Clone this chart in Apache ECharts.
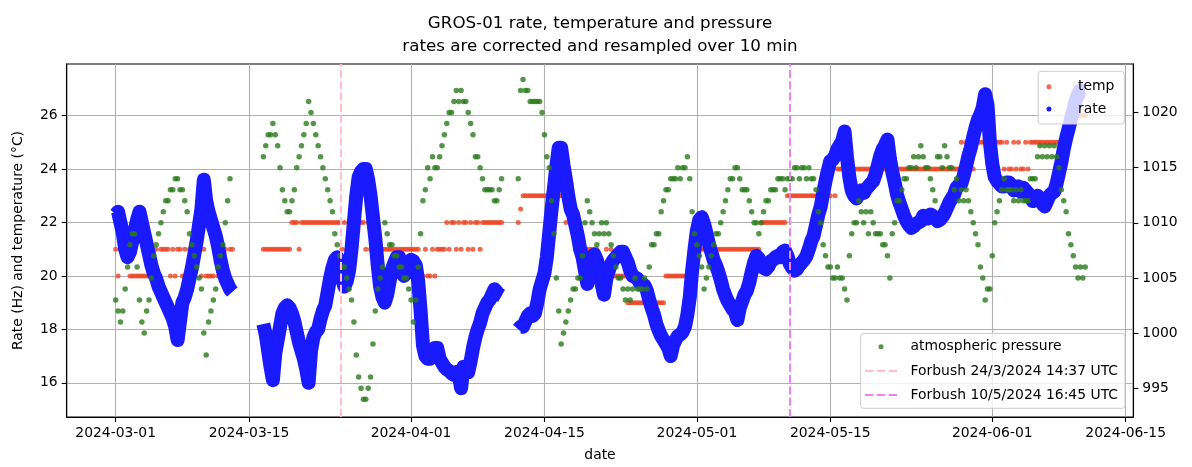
<!DOCTYPE html>
<html><head><meta charset="utf-8">
<script src="https://cdn.jsdelivr.net/npm/echarts@6/dist/echarts.min.js"></script>
<style>html,body{margin:0;padding:0;background:#fff}#c{width:1192px;height:467px}</style>
</head><body><div id="c"></div>
<script>
// ---- data (6-hour samples) ----
const segmentStarts = ['2024-03-01T00:00:00Z', '2024-03-16T12:00:00Z', '2024-04-12T06:00:00Z'];
const stepHours = 6;

const rate1 = [22.3,22.4,22.0,21.6, 21.0,20.7,20.9,21.3, 21.7,22.1,22.4,22.0, 21.6,21.2,20.8,20.4,
  20.1,19.9,19.6,19.4, 19.2,19.0,18.8,18.6, 18.4,18.1,17.6,18.3, 19.0,19.2,19.5,19.9,
  20.3,20.8,21.3,21.9, 22.5,23.6,22.8,22.4, 22.1,21.8,21.5,21.1, 20.6,20.2,19.9,19.7, 19.5,19.4];
const rate2 = [18.2,17.8,17.2,16.6, 16.1,17.1,17.6,18.1, 18.6,18.8,18.9,18.8, 18.6,18.3,17.9,17.5,
  17.2,16.9,16.5,16.0, 17.2,17.7,17.9,18.0, 18.4,18.7,18.9,19.4, 19.9,20.3,20.6,20.7,
  20.5,19.9,19.6,19.8, 20.2,21.0,22.0,23.0, 23.7,23.9,24.0,24.0, 23.6,23.0,22.2,21.4,
  20.4,19.6,19.2,19.0, 19.3,19.8,20.25,20.5, 20.7,20.7,20.3,20.0, 20.1,20.4,20.6,20.55,
  20.4,19.8,18.7,17.4, 17.0,16.9,16.9,17.1, 17.3,17.3,16.9,16.75, 16.6,16.5,16.45,16.35,
  16.3,16.4,16.3,15.8, 16.6,16.4,16.4,16.8, 17.3,17.7,18.0,18.25, 18.6,18.8,19.0,19.1,
  19.3,19.5,19.4,19.3, 19.25];
const rate3 = [18.0,18.1,18.1,
  18.3,18.5,18.6,18.5, 18.6,19.0,19.5,19.8, 20.1,20.7,21.6,22.5, 23.3,24.1,24.8,24.8,
  24.15,23.6,23.0,22.5, 22.3,21.9,21.5,21.0, 20.7,20.2,19.7,20.4, 20.7,20.8,20.6,20.2,
  19.7,19.3,19.9,20.2, 20.45,20.6,20.7,20.8, 20.9,20.9,20.7,20.5, 20.2,20.0,19.95,19.9,
  19.75,19.7,19.65,19.45, 19.1,18.8,18.55,18.2, 17.95,17.75,17.6,17.45, 17.3,17.0,17.4,17.6,
  17.75,17.8,17.9,18.1, 18.55,19.2,20.2,21.0, 21.7,22.1,22.2,21.95, 21.6,21.2,20.9,20.6,
  20.4,20.15,19.85,19.5, 19.25,19.05,18.9,18.75, 18.65,18.35,18.8,19.05, 19.3,19.45,19.75,20.15,
  20.5,20.75,20.65,20.45, 20.3,20.25,20.35,20.55, 20.6,20.7,20.75,20.7, 20.9,20.95,20.75,20.45,
  20.3,20.2,20.25,20.4, 20.5,20.6,20.75,21.0, 21.3,21.5,21.9,22.3, 22.6,23.1,23.55,23.95,
  24.3,24.35,24.5,24.75, 24.9,25.05,25.4,24.45, 23.7,23.2,23.0,22.9, 23.05,23.2,23.1,23.25,
  23.35,23.45,23.55,23.8, 24.15,24.5,24.75,24.9, 25.1,24.4,23.9,23.5, 23.05,22.75,22.5,22.25,
  22.05,21.9,21.8,21.85, 21.95,22.0,22.05,22.25, 22.2,22.15,22.3,22.25, 22.15,22.05,22.1,22.2,
  22.35,22.55,22.75,22.9, 23.05,23.3,23.4,23.45, 23.75,24.1,24.5,24.8, 25.2,25.55,25.85,26.05,
  26.3,26.8,26.4,25.0, 24.2,23.7,23.55,23.45, 23.35,23.35,23.5,23.5, 23.4,23.2,23.3,23.35,
  23.15,23.3,23.2,23.1, 22.95,22.8,22.85,23.0, 22.85,22.7,22.6,22.8, 23.0,23.1,23.15,23.45,
  23.85,24.25,24.75,25.15, 25.5,25.85,26.2,26.55, 26.8,26.95,26.9,26.9];

const temp1 = [21,20,21,21, 21,21,20,20, 20,20,20,20, 20,20,20,20, 20,21,20,21, 21,21,21,20,
  21,20,21,21, 20,21,20,21, 20,21,21,21, 20,21,20,20, 20,20,21,20, 21,20,21,20, 21,21];
const temp2 = [21,21,21,21,21,21,21,21,21,21,21,21,
  22,22,22,21,22,22,22,22,22,22,22,22,22,22,22,22,22,22,22,22,22,
  21,22,21,
  22,22,22,22,22,22,22,
  21,22,
  21,21,21,21,21,21,21,21,21,21,21,21,21,21,21,21,21,21,21,21,21,
  20,20,21,20,20,21,20,
  21,21,21,21,
  22,21,22,22,21,22,21,22,22,21,22,21,22,22,21,
  22,22,22,22,22,22,22,22,22];
const temp3 = [22,22.5,
  23,23,23,23,23,23,23,23,23,23,23,23,23,23,23,23,23,
  23,22,23,22,
  22,21,22,21,
  21,21,21,21,21,21,21,
  20,20,20,21,20,21,20,20,20,20,20,20,
  19,19,19,19,19,19,19,19,19,19,19,19,19,19,19,19,
  20,20,20,20,20,20,20,20,20,20,20,
  21,21,21,21,21,21,21,21,21,21,21,21,21,21,21,21,21,21,21,21,21,21,21,21,21,21,21,21,21,
  22,22,22,22,22,22,22,22,22,22,22,
  23,23,23,23,23,23,23,23,23,23,23,23,23,23,23,23,23,
  24,23,24,23,
  24,24,24,24,24,24,24,24,24,24, 24,24,24,24,24,24,24,24,24,24, 24,24,24,24,24,24,24,24,24,24,
  24,24,24,24,24,24,24,24,24,24, 24,24,24,24,24,24,24,24,24,24, 24,24,
  25,24,25,24,25,24,25,
  25,25,25,25,25,25,25,25,25,25,25,
  24,25,24,24,25,24,25,24,24,25,24,25,
  25,25,25,25,25,25,25,25,25,25,25,25,25,25,
  25,26,26,26,26,26,26,26,26];

const press1 = [1003,1002,1001,1002, 1004,1006,1008,1009, 1009,1006,1003,1001, 1000,1002,1003,1005,
  1007,1008,1009,1010, 1011,1012,1012,1013, 1013,1014,1014,1013, 1013,1012,1011,1009,
  1008,1007,1006,1005, 1004,1000,998,1001, 1002,1003,1004,1006, 1007,1008,1010,1012, 1014];
const press2 = [1016,1017,1018,1018, 1019,1018,1017,1015, 1013,1012,1011,1011, 1012,1013,1015,1016,
  1017,1018,1019,1021, 1020,1019,1018,1017, 1016,1015,1014,1013, 1012,1011,1009,1008,
  1007,1006,1006,1005, 1004,1003,1001,998, 996,995,994,994, 995,996,999,1002,
  1004,1005,1006,1010, 1009,1008,1008,1007, 1007,1006,1006,1005, 1005,1004,1003,1001,
  1003,1006,1009,1012, 1013,1015,1014,1016, 1015,1015,1016,1017, 1018,1019,1020,1020,
  1021,1022,1021,1022, 1021,1021,1020,1019, 1018,1016,1016,1015, 1014,1013,1013,1013,
  1013,1012,1012,1013, 1014];
const press3 = [1014,1022,1023,
  1022,1022,1021,1021, 1021,1021,1021,1020, 1018,1016,1015,1012, 1009,1005,1002,999,
  1000,1001,1002,1003, 1004,1004,1005,1005, 1007,1010,1012,1011, 1010,1009,1008,1009,
  1010,1009,1010,1009, 1008,1007,1006,1005, 1005,1004,1003,1004, 1003,1004,1005,1004,
  1004,1004,1005,1004, 1006,1008,1008,1009, 1009,1011,1012,1013, 1013,1014,1014,1014,
  1015,1014,1015,1015, 1016,1014,1011,1009, 1008,1007,1006,1004, 1005,1006,1007,1008,
  1009,1009,1010,1011, 1012,1013,1014,1014, 1015,1015,1014,1013, 1013,1013,1012,1011,
  1010,1010,1009,1010, 1011,1012,1012,1013, 1013,1013,1014,1014, 1014,1013,1014,1014,
  1014,1015,1015,1014, 1015,1015,1014,1015, 1014,1014,1013,1011, 1010,1008,1007,1006,
  1006,1005,1005,1006, 1005,1005,1004,1003, 1007,1009,1010,1010, 1012,1011,1010,1011,
  1009,1011,1010,1009, 1009,1009,1008,1008, 1007,1005,1009,1010, 1012,1012,1013,1014,
  1014,1015,1015,1016, 1015,1016,1017,1016, 1015,1015,1014,1013, 1012,1016,1016,1015,
  1017,1016,1015,1015, 1013,1014,1012,1013, 1012,1013,1012,1011, 1010,1009,1008,1006,
  1005,1003,1004,1004, 1007,1010,1011,1012, 1013,1014,1013,1013, 1013,1012,1013,1012,
  1013,1012,1012,1012, 1014,1014,1014,1016, 1017,1016,1017,1016, 1017,1016,1017,1016,
  1015,1013,1012,1011, 1009,1008,1007,1006, 1005,1006,1005,1006];

const xTickLabels = ['2024-03-01','2024-03-15','2024-04-01','2024-04-15','2024-05-01','2024-05-15','2024-06-01','2024-06-15'];
const leftTicks = [16, 18, 20, 22, 24, 26];
const rightTicks = [995, 1000, 1005, 1010, 1015, 1020];
const forbushNames = ['Forbush 24/3/2024 14:37 UTC', 'Forbush 10/5/2024 16:45 UTC'];
const forbushTimes = ['2024-03-24T14:37:00Z', '2024-05-10T16:45:00Z'];

// ---- build ----
const H = 3600 * 1000, DAY = 24 * H;
function build(segs, breakBetween) {
  const out = [];
  segs.forEach((arr, k) => {
    const t0 = Date.parse(segmentStarts[k]);
    arr.forEach((v, i) => out.push([t0 + i * stepHours * H, v]));
    if (breakBetween && k < segs.length - 1) out.push([t0 + arr.length * stepHours * H, null]);
  });
  return out;
}
const xTickValues = xTickLabels.map(s => Date.parse(s + 'T00:00:00Z'));
const xMin = xTickValues[0] - 5.14 * DAY;
const xMax = xTickValues[7] + 0.8 * DAY;
const FONT = 'DejaVu Sans';
const tickFont = {fontFamily: FONT, fontSize: 13.9, color: '#000'};
const DASH_ICON = 'path://M0,0H8V2H0ZM11.3,0H19.3V2H11.3ZM22.6,0H30.6V2H22.6Z';

const chart = echarts.init(document.getElementById('c'), null, {renderer: 'canvas'});
const option = {
  animation: false,
  backgroundColor: '#fff',
  title: {
    text: 'GROS-01 rate, temperature and pressure\nrates are corrected and resampled over 10 min',
    left: 600, top: 11.5, padding: 0, textAlign: 'center',
    textStyle: {fontFamily: FONT, fontSize: 16.7, fontWeight: 'normal', color: '#000', lineHeight: 23.5}
  },
  grid: {left: 66.7, right: 58.7, top: 64, bottom: 48.7, show: true, borderColor: '#000', borderWidth: 1.1, backgroundColor: 'transparent'},
  xAxis: {
    type: 'value', min: xMin, max: xMax, scale: true,
    name: 'date', nameLocation: 'middle', nameGap: 31,
    nameTextStyle: {fontFamily: FONT, fontSize: 13.9, color: '#000'},
    axisLine: {show: true, onZero: false, lineStyle: {color: '#000', width: 1.1}},
    axisTick: {show: true, length: 5, lineStyle: {color: '#000', width: 1.1}, customValues: xTickValues},
    axisLabel: Object.assign({customValues: xTickValues, margin: 9, showMinLabel: true, showMaxLabel: true, hideOverlap: false,
      formatter: v => { const i = xTickValues.indexOf(v); return i >= 0 ? xTickLabels[i] : ''; }}, tickFont),
    splitLine: {show: true, lineStyle: {color: '#b0b0b0', width: 1.1}}
  },
  yAxis: [
    {
      type: 'value', min: 14.72, max: 27.93, position: 'left',
      name: 'Rate (Hz) and temperature (°C)', nameLocation: 'middle', nameGap: 41, nameRotate: 90,
      nameTextStyle: {fontFamily: FONT, fontSize: 13.9, color: '#000'},
      axisLine: {show: true, lineStyle: {color: '#000', width: 1.1}},
      axisTick: {show: true, length: 5, lineStyle: {color: '#000', width: 1.1}, customValues: leftTicks},
      axisLabel: Object.assign({customValues: leftTicks, margin: 9, formatter: v => String(v)}, tickFont),
      splitLine: {show: true, lineStyle: {color: '#b0b0b0', width: 1.1}}
    },
    {
      type: 'value', min: 992.38, max: 1024.41, position: 'right',
      axisLine: {show: true, lineStyle: {color: '#000', width: 1.1}},
      axisTick: {show: true, length: 5, lineStyle: {color: '#000', width: 1.1}, customValues: rightTicks},
      axisLabel: Object.assign({customValues: rightTicks, margin: 9, formatter: v => String(v)}, tickFont),
      splitLine: {show: false}
    }
  ],
  legend: [
    {
      data: [{name: 'temp', icon: 'circle'}, {name: 'rate', icon: 'circle'}],
      orient: 'vertical', right: 67.7, top: 71.3,
      itemWidth: 28, itemHeight: 5, itemGap: 6.3,
      padding: [7.4, 10, 7, 8.3],
      backgroundColor: 'rgba(255,255,255,0.8)', borderColor: '#cccccc', borderWidth: 1, borderRadius: 3,
      textStyle: {fontFamily: FONT, fontSize: 13.9, color: '#000', lineHeight: 16, padding: [0, 0, 0, 10]},
      selectedMode: false
    },
    {
      data: [{name: 'atmospheric pressure', icon: 'circle'},
             {name: forbushNames[0], icon: DASH_ICON}, {name: forbushNames[1], icon: DASH_ICON}],
      orient: 'vertical', right: 67, bottom: 58.7,
      itemWidth: 32, itemHeight: 5, itemGap: 8.1,
      padding: [5.4, 7, 5.3, 4.4],
      backgroundColor: 'rgba(255,255,255,0.8)', borderColor: '#cccccc', borderWidth: 1, borderRadius: 3,
      textStyle: {fontFamily: FONT, fontSize: 13.9, color: '#000', lineHeight: 16, padding: [0, 0, 0, 8.6]},
      selectedMode: false
    }
  ],
  series: [
    {
      name: 'temp', type: 'scatter', yAxisIndex: 0, z: 2,
      symbol: 'circle', symbolSize: 5,
      itemStyle: {color: '#ee4422'},
      data: build([temp1, temp2, temp3], false)
    },
    {
      name: 'rate', type: 'line', yAxisIndex: 0, z: 3,
      showSymbol: false, symbol: 'circle', connectNulls: false,
      itemStyle: {color: '#1a1aff'},
      lineStyle: {color: '#1a1aff', width: 14, join: 'round', cap: 'butt'},
      data: build([rate1, rate2, rate3], true)
    },
    {
      name: 'atmospheric pressure', type: 'scatter', yAxisIndex: 1, z: 4,
      symbol: 'circle', symbolSize: 5.5,
      itemStyle: {color: '#2b7a1b'},
      data: build([press1, press2, press3], false)
    },
    {
      name: forbushNames[0], type: 'line', yAxisIndex: 1, z: 5, symbol: 'none',
      itemStyle: {color: '#ffc0cb'},
      lineStyle: {color: '#ffc0cb', width: 2, type: [8, 3.3]},
      data: [],
      markLine: {silent: true, symbol: ['none', 'none'], label: {show: false},
        lineStyle: {color: '#ffc0cb', width: 2, type: [8, 3.3]},
        data: [{xAxis: Date.parse(forbushTimes[0])}]}
    },
    {
      name: forbushNames[1], type: 'line', yAxisIndex: 1, z: 5, symbol: 'none',
      itemStyle: {color: '#ee82ee'},
      lineStyle: {color: '#ee82ee', width: 2, type: [8, 3.3]},
      data: [],
      markLine: {silent: true, symbol: ['none', 'none'], label: {show: false},
        lineStyle: {color: '#ee82ee', width: 2, type: [8, 3.3]},
        data: [{xAxis: Date.parse(forbushTimes[1])}]}
    }
  ]
};
chart.setOption(option);
</script>
</body></html>
